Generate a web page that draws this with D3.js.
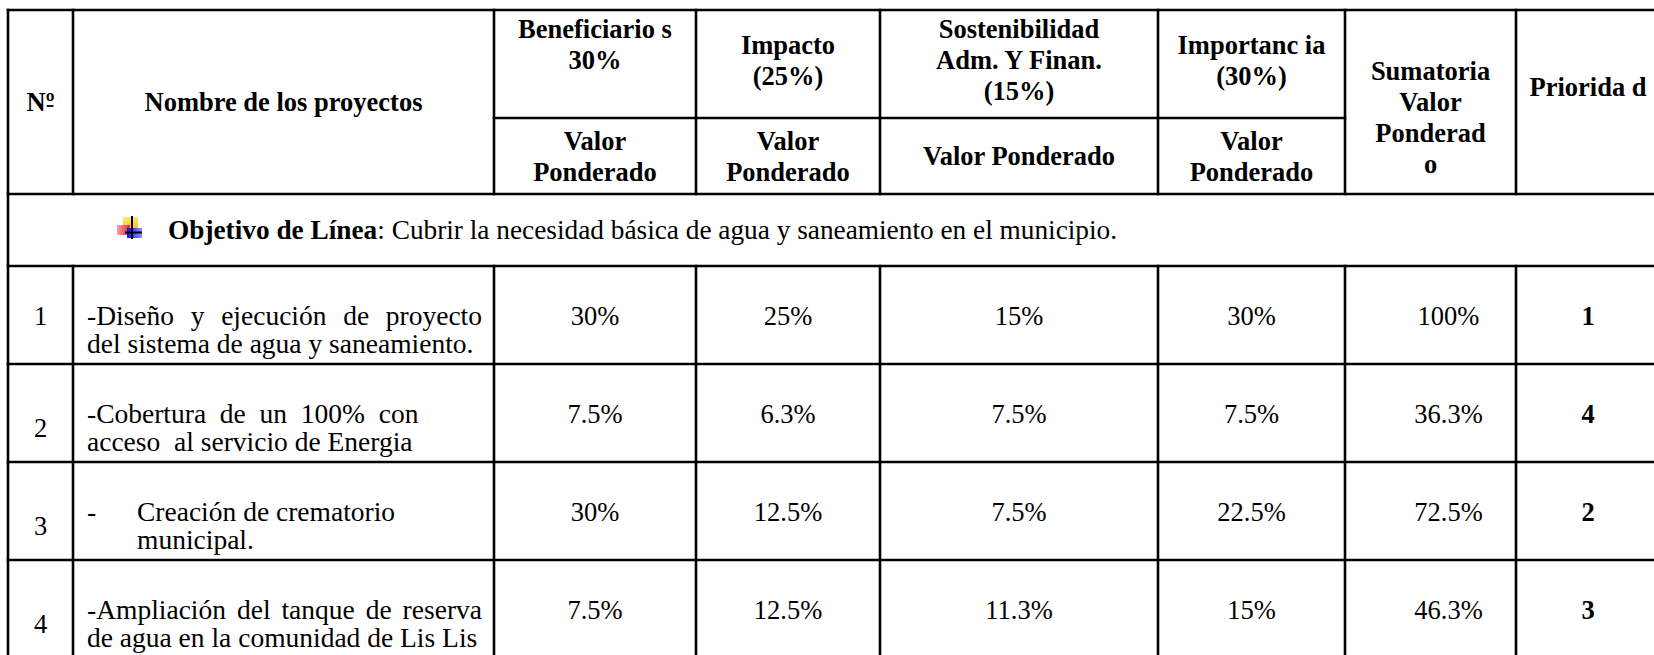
<!DOCTYPE html>
<html>
<head>
<meta charset="utf-8">
<script src="https://cdn.jsdelivr.net/npm/d3@7"></script>
<style>
  html, body { margin: 0; padding: 0; background: #fff; }
  svg { display: block; }
  text { font-family: "Liberation Serif", "Times New Roman", serif; fill: #000; white-space: pre; }
</style>
</head>
<body>
<div id="tabla"></div>
<script>
// datos de la tabla
var numeros = [1, 2, 3, 4];
var proyectos = [
    ["-Diseño y ejecución de proyecto", "del sistema de agua y saneamiento."],
    ["-Cobertura  de  un  100%  con", "acceso  al servicio de Energia"],
    ["-\tCreación de crematorio", "\tmunicipal."],
    ["-Ampliación del tanque de reserva", "de agua en la comunidad de Lis Lis"]
];
var beneficiarios = [30, 7.5, 30, 7.5];
var impacto = [25, 6.3, 12.5, 12.5];
var sostenibilidad = [15, 7.5, 7.5, 11.3];
var importancia = [30, 7.5, 22.5, 15];
var sumatoria = [100, 36.3, 72.5, 46.3];
var prioridad = [1, 4, 2, 3];

var encabezados = [
    ["Nº"],
    ["Nombre de los proyectos"],
    ["Beneficiario s", "30%", ""],
    ["Impacto", "(25%)"],
    ["Sostenibilidad", "Adm. Y Finan.", "(15%)"],
    ["Importanc ia", "(30%)"],
    ["", "Sumatoria", "Valor", "Ponderad", "o"],
    ["Priorida d", ""]
];
var subEncabezados = [
    ["Valor", "Ponderado"],
    ["Valor", "Ponderado"],
    ["Valor Ponderado"],
    ["Valor", "Ponderado"]
];
var objetivoTitulo = "Objetivo de Línea";
var objetivoTexto = ": Cubrir la necesidad básica de agua y saneamiento en el municipio.";

// medidas
var width = 1654, height = 655;
var fsHead = 26.5, fsNombre = 27.5, fsValor = 26.5, fsObj = 27.3;
var lhHead = 31, lhBody = 28;
var columnas = ["num", "nombre", "benef", "impacto", "sost", "import", "suma", "prior"];
var bordes = [8, 73, 494, 696, 880, 1158, 1345, 1516, 1660];
var x = d3.scaleOrdinal().domain(columnas).range(bordes.slice(0, -1));
var xFin = d3.scaleOrdinal().domain(columnas).range(bordes.slice(1));
function xMid(c) { return (x(c) + xFin(c)) / 2; }

var yTop = 10, ySplit = 118, yHead = 194, yObj = 266;
var y = d3.scaleBand().domain(numeros).range([yObj, yObj + 98 * numeros.length]);
var yFin = y.range()[1];

var svg = d3.select("#tabla").append("svg")
    .attr("width", width)
    .attr("height", height);

svg.append("rect").attr("width", width).attr("height", height).attr("fill", "#fff");

var textos = svg.append("g");

function texto(t, xx, yy, fs, opts) {
    opts = opts || {};
    return textos.append("text")
        .attr("x", xx)
        .attr("y", yy + fs * 0.34)
        .attr("text-anchor", opts.anchor || "start")
        .style("font-size", fs + "px")
        .style("font-weight", opts.negrita ? "bold" : "normal")
        .text(t);
}

function bloque(lines, cx, cy, fs, lh, negrita) {
    var n = lines.length;
    var hechos = [];
    lines.forEach(function (t, i) {
        if (t) hechos.push(texto(t, cx, cy + (i - (n - 1) / 2) * lh, fs, { anchor: "middle", negrita: negrita }));
    });
    return hechos;
}

function medir(t, fs) {
    var tmp = texto(t, 0, 0, fs);
    var a = tmp.node().getComputedTextLength();
    tmp.remove();
    return a;
}

function textoIzq(t, x0, yy, fs, justo, derecha) {
    t.split("\t").forEach(function (p, k) {
        if (!p) return;
        var xx = x0 + k * 50;
        if (justo) {
            var palabras = p.split(" ");
            var anchos = palabras.map(function (w) { return medir(w, fs); });
            var hueco = (derecha - xx - d3.sum(anchos)) / (palabras.length - 1);
            var cursor = xx;
            palabras.forEach(function (w, j) {
                texto(w, cursor, yy, fs);
                cursor += anchos[j] + hueco;
            });
        } else {
            texto(p, xx, yy, fs);
        }
    });
}

// encabezados
var completas = ["num", "nombre", "suma", "prior"];
encabezados.forEach(function (lines, i) {
    var c = columnas[i];
    var cy = completas.indexOf(c) >= 0 ? (yTop + yHead) / 2 : 60;
    var hechos = bloque(lines, xMid(c), cy, fsHead, lhHead, true);
    if (c === "num") {
        // subrayado del ordinal, como en Times
        var nodo = hechos[0].node();
        var total = nodo.getComputedTextLength();
        var sub = nodo.getSubStringLength(1, 1);
        var x0 = xMid(c) - total / 2 + (total - sub);
        var yb = cy + fsHead * 0.34 - 5;
        textos.append("line")
            .attr("x1", x0 + 1).attr("x2", x0 + sub - 1)
            .attr("y1", yb).attr("y2", yb)
            .attr("stroke", "#000").attr("stroke-width", 1.8);
    }
});
["benef", "impacto", "sost", "import"].forEach(function (c, i) {
    bloque(subEncabezados[i], xMid(c), (ySplit + yHead) / 2, fsHead, lhHead, true);
});

// fila del objetivo
var yo = (yHead + yObj) / 2;
var defs = svg.append("defs");
var gy = defs.append("linearGradient").attr("id", "amarillo").attr("x1", 0).attr("y1", 0).attr("x2", 0).attr("y2", 1);
gy.append("stop").attr("offset", 0).attr("stop-color", "#ffe680");
gy.append("stop").attr("offset", 1).attr("stop-color", "#f5c400");
var gr = defs.append("linearGradient").attr("id", "rojo");
gr.append("stop").attr("offset", 0).attr("stop-color", "#f7a0a8");
gr.append("stop").attr("offset", 1).attr("stop-color", "#e8283c");
var gb = defs.append("linearGradient").attr("id", "azul");
gb.append("stop").attr("offset", 0).attr("stop-color", "#1010e8");
gb.append("stop").attr("offset", 1).attr("stop-color", "#9090ff");

var icono = svg.append("g").attr("transform", "translate(117," + (yo - 14) + ")");
icono.append("rect").attr("x", 6).attr("y", 1).attr("width", 15).attr("height", 13).attr("fill", "url(#amarillo)");
icono.append("rect").attr("x", 0).attr("y", 9).attr("width", 13).attr("height", 10).attr("fill", "url(#rojo)");
icono.append("rect").attr("x", 10).attr("y", 12).attr("width", 15).attr("height", 10).attr("fill", "url(#azul)");
icono.append("line").attr("x1", 15).attr("y1", 0).attr("x2", 15).attr("y2", 23).attr("stroke", "#000").attr("stroke-width", 2);
icono.append("line").attr("x1", 8).attr("y1", 16.5).attr("x2", 25).attr("y2", 16.5).attr("stroke", "#000").attr("stroke-width", 2);

var obj = texto("", 168, yo, fsObj);
obj.append("tspan").style("font-weight", "bold").text(objetivoTitulo);
obj.append("tspan").text(objetivoTexto);

// filas de proyectos
var valores = [
    ["benef", beneficiarios],
    ["impacto", impacto],
    ["sost", sostenibilidad],
    ["import", importancia],
    ["suma", sumatoria]
];
var justificar = [true, false, false, true];

numeros.forEach(function (n, i) {
    var cy = y(n) + y.bandwidth() / 2 + 15;
    bloque([String(n)], xMid("num"), cy - (i === 0 ? 14 : 0), fsValor, lhBody, false);
    proyectos[i].forEach(function (t, k) {
        textoIzq(t, x("nombre") + 14, cy + (k - 0.5) * lhBody, fsNombre,
            justificar[i] && k === 0, xFin("nombre") - 12);
    });
    valores.forEach(function (v) {
        var dx = v[0] === "suma" ? 18 : 0;
        bloque([v[1][i] + "%"], xMid(v[0]) + dx, cy - lhBody / 2, fsValor, lhBody, false);
    });
    bloque([String(prioridad[i])], xMid("prior"), cy - lhBody / 2, fsValor, lhBody, true);
});

// bordes de la tabla
var lineas = svg.append("g")
    .attr("stroke", "#000")
    .attr("stroke-width", 2.6)
    .attr("stroke-linecap", "square");

function linea(x1, y1, x2, y2) {
    lineas.append("line").attr("x1", x1).attr("y1", y1).attr("x2", x2).attr("y2", y2);
}

[yTop, yHead, yObj].concat(numeros.map(function (n) { return y(n) + y.bandwidth(); }))
    .forEach(function (yy) { linea(bordes[0], yy, bordes[bordes.length - 1], yy); });
linea(x("benef"), ySplit, xFin("import"), ySplit);

bordes.forEach(function (bx, i) {
    if (i === 0) {
        linea(bx, yTop, bx, yFin);
    } else {
        linea(bx, yTop, bx, yHead);
        linea(bx, yObj, bx, yFin);
    }
});
</script>
</body>
</html>
